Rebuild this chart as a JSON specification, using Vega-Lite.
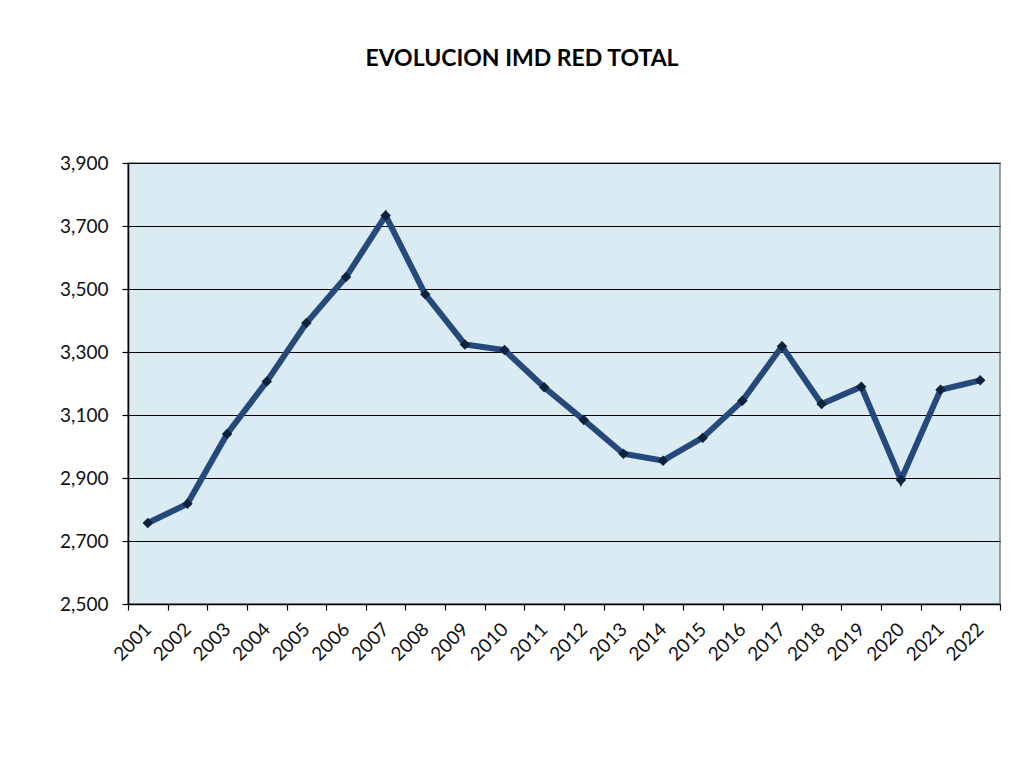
{
  "$schema": "https://vega.github.io/schema/vega-lite/v6.json",
  "autosize": "none",
  "width": 872,
  "height": 441,
  "padding": {"left": 128, "top": 163, "right": 20, "bottom": 154},
  "background": "#ffffff",
  "title": {
    "text": "EVOLUCION IMD RED TOTAL",
    "font": "Lato",
    "fontSize": 23,
    "fontWeight": "bold",
    "color": "#000000",
    "anchor": "middle",
    "offset": 83,
    "dx": -42
  },
  "config": {
    "view": {"fill": "#DAEBF3", "stroke": "#808080", "strokeWidth": 1.5},
    "axis": {
      "labelFont": "Lato",
      "labelColor": "#111111",
      "labelFontSize": 19,
      "domainColor": "#000000",
      "domainWidth": 1.5,
      "tickColor": "#000000",
      "tickWidth": 1.2,
      "tickSize": 6,
      "title": null
    }
  },
  "data": {
    "values": [
      {"year": "2001", "value": 2757},
      {"year": "2002", "value": 2818},
      {"year": "2003", "value": 3040},
      {"year": "2004", "value": 3206},
      {"year": "2005", "value": 3392},
      {"year": "2006", "value": 3538},
      {"year": "2007", "value": 3733},
      {"year": "2008", "value": 3483},
      {"year": "2009", "value": 3324},
      {"year": "2010", "value": 3306},
      {"year": "2011", "value": 3188},
      {"year": "2012", "value": 3084},
      {"year": "2013", "value": 2977},
      {"year": "2014", "value": 2955},
      {"year": "2015", "value": 3028},
      {"year": "2016", "value": 3145},
      {"year": "2017", "value": 3318},
      {"year": "2018", "value": 3135},
      {"year": "2019", "value": 3190},
      {"year": "2020", "value": 2894},
      {"year": "2021", "value": 3180},
      {"year": "2022", "value": 3210}
    ]
  },
  "encoding": {
    "x": {
      "field": "year",
      "type": "ordinal",
      "scale": {"type": "band", "paddingInner": 0, "paddingOuter": 0},
      "axis": {
        "labelAngle": -45,
        "labelAlign": "right",
        "labelBaseline": "middle",
        "labelPadding": 16,
        "tickBand": "extent",
        "grid": false
      }
    },
    "y": {
      "field": "value",
      "type": "quantitative",
      "scale": {"domain": [2500, 3900], "nice": false, "zero": false},
      "axis": {
        "values": [2500, 2700, 2900, 3100, 3300, 3500, 3700, 3900],
        "format": ",.0f",
        "grid": true,
        "gridColor": "#000000",
        "gridWidth": 1.2,
        "gridOpacity": 1,
        "labelPadding": 14
      }
    }
  },
  "layer": [
    {"mark": {"type": "line", "color": "#24497A", "strokeWidth": 6, "strokeJoin": "miter"}},
    {"mark": {"type": "point", "shape": "diamond", "filled": true, "color": "#0E213D", "opacity": 1, "size": 110}}
  ]
}
